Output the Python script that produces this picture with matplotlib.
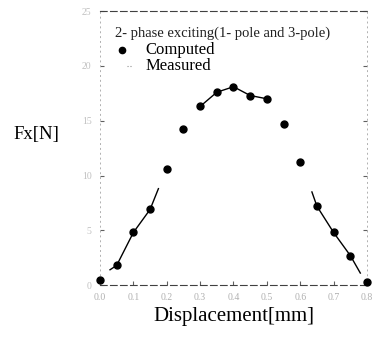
import numpy as np
import matplotlib
matplotlib.use("Agg")
import matplotlib.pyplot as plt

# computed Fx values (filled dots)
disp_comp = [0.0, 0.05, 0.1, 0.15, 0.2, 0.25, 0.3, 0.35, 0.4, 0.45, 0.5, 0.55, 0.6, 0.65, 0.7, 0.75, 0.8]
fx_comp = [0.5, 1.8, 4.8, 6.9, 10.6, 14.2, 16.3, 17.6, 18.1, 17.3, 17.0, 14.7, 11.2, 7.2, 4.8, 2.7, 0.3]

# measured curve (solid line, gaps where the scan lost it)
disp_meas = [0.03, 0.05, 0.1, 0.15, 0.175, np.nan, 0.3, 0.35, 0.4, 0.45, 0.5, np.nan, 0.635, 0.65, 0.7, 0.75, 0.78]
fx_meas = [1.4, 1.8, 4.8, 6.9, 8.8, np.nan, 16.3, 17.6, 18.1, 17.3, 17.0, np.nan, 8.5, 7.2, 4.8, 2.7, 1.1]

xticks = [0.0, 0.1, 0.2, 0.3, 0.4, 0.5, 0.6, 0.7, 0.8]
yticks = [0, 5, 10, 15, 20, 25]

plt.rcParams['font.family'] = ['Liberation Serif', 'DejaVu Serif']

fig = plt.figure(figsize=(3.76, 3.37), dpi=100)
ax = fig.add_axes([0.266, 0.154, 0.71, 0.813])

ax.plot(disp_meas, fx_meas, color='black', lw=1.0)
ax.plot(disp_comp, fx_comp, 'o', color='black', ms=5, clip_on=False, zorder=3)

ax.set_xlim(0, 0.8)
ax.set_ylim(0, 25)
ax.set_xticks(xticks)
ax.set_yticks(yticks)
ax.set_xticklabels(['%.1f' % v for v in xticks], color='#b0b0b0', fontsize=7)
ax.set_yticklabels([str(v) for v in yticks], color='#c0c0c0', fontsize=7)
ax.tick_params(direction='in', length=3, color='#606060', right=True, top=False, pad=6)

for side in ['top', 'bottom']:
    ax.spines[side].set_linestyle((0, (6, 3)))
    ax.spines[side].set_color('#404040')
    ax.spines[side].set_linewidth(0.8)
for side in ['left', 'right']:
    ax.spines[side].set_linestyle((0, (1, 4)))
    ax.spines[side].set_color('#b0b0b0')
    ax.spines[side].set_linewidth(0.7)

ax.set_xlabel('Displacement[mm]', fontsize=15, labelpad=3)
fig.text(0.035, 0.60, 'Fx[N]', fontsize=13.5, va='center')

# legend block
ax.text(0.056, 0.918, '2- phase exciting(1- pole and 3-pole)', transform=ax.transAxes,
        fontsize=10.5, va='center', color='#202020')
ax.plot([0.082], [0.858], 'o', color='black', ms=4.5, transform=ax.transAxes, clip_on=False)
ax.text(0.17, 0.858, 'Computed', transform=ax.transAxes, fontsize=12, va='center')
ax.plot([0.1, 0.12], [0.798, 0.798], ':', color='#909090', lw=0.8, transform=ax.transAxes)
ax.text(0.17, 0.798, 'Measured', transform=ax.transAxes, fontsize=12, va='center')

fig.savefig('out.png', dpi=100)
